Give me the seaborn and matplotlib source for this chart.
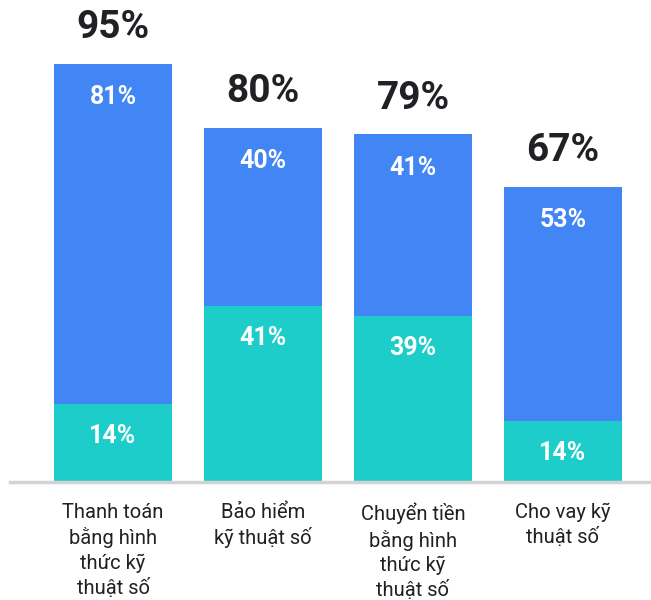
import matplotlib.pyplot as plt
import numpy as np
import seaborn as sb

categories = ["Thanh toán\nbằng hình\nthức kỹ\nthuật số", "Bảo hiểm\nkỹ thuật số",
              "Chuyển tiền\nbằng hình\nthức kỹ\nthuật số", "Cho vay kỹ\nthuật số"]
# printed labels
totals = [95, 80, 79, 67]
upper = [81, 40, 41, 53]
lower = [14, 41, 39, 14]
# bar heights as drawn in the picture
total_heights = [95, 80.5, 79, 67]
lower_heights = [17.7, 40, 37.8, 13.9]

blue = "#4285F4"
teal = "#1CCDCA"
ink = "#202124"

sb.set_style("white")
plt.rcParams["font.family"] = ["Roboto", "DejaVu Sans"]

fig = plt.figure(figsize=(6.51, 6.0), dpi=100)
ax = fig.add_axes([10 / 651, 118 / 600, 641 / 651, 482 / 600])

x = np.arange(len(categories))
sb.barplot(x=x, y=total_heights, color=blue, width=0.787, saturation=1, linewidth=0, ax=ax)
sb.barplot(x=x, y=lower_heights, color=teal, width=0.787, saturation=1, linewidth=0, ax=ax)

for i in range(len(categories)):
    ax.annotate(f"{totals[i]}%", (i, total_heights[i]), xytext=(0, 26), textcoords="offset points",
                ha="center", va="center", fontsize=28, fontweight="bold", color=ink)
    ax.annotate(f"{upper[i]}%", (i, total_heights[i]), xytext=(0, -24), textcoords="offset points",
                ha="center", va="center", fontsize=18, fontweight="bold", color="white")
    ax.annotate(f"{lower[i]}%", (i, lower_heights[i]), xytext=(0, -23), textcoords="offset points",
                ha="center", va="center", fontsize=18, fontweight="bold", color="white")

ax.set_xlim(-0.687, 3.587)
ax.set_ylim(0, 109.5)
ax.set_xticks(x)
ax.set_xticklabels(categories, fontsize=14.5, color=ink, linespacing=1.33)
ax.tick_params(axis="x", length=0, pad=15)
ax.set_yticks([])
for s in ["top", "left", "right"]:
    ax.spines[s].set_visible(False)
ax.spines["bottom"].set_color("#D3D3D3")
ax.spines["bottom"].set_linewidth(2.5)

fig.savefig("out.png", dpi=100)
